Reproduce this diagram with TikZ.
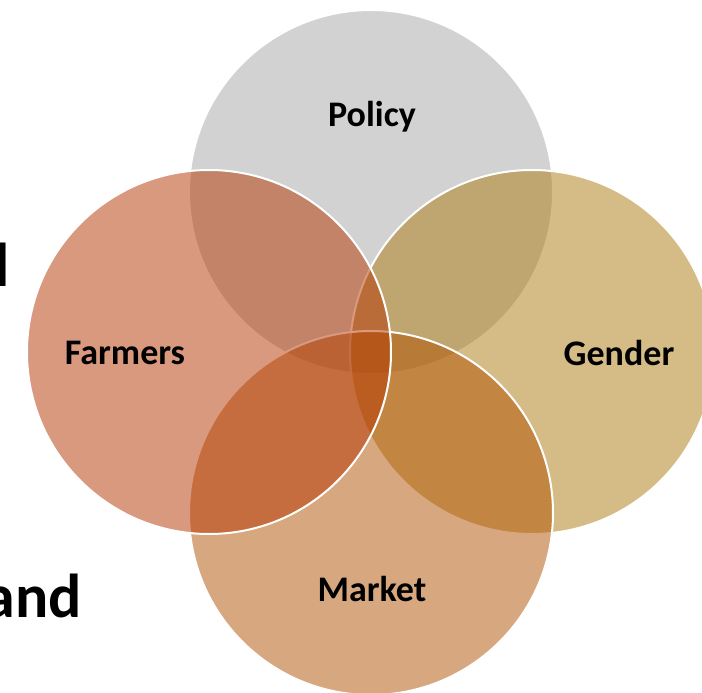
\documentclass[tikz,border=0pt]{standalone}
\usepackage{fontspec}
\setmainfont{Carlito}
\definecolor{policyc}{RGB}{167,167,167}
\definecolor{farmersc}{RGB}{181,53,0}
\definecolor{genderc}{RGB}{173,121,13}
\definecolor{marketc}{RGB}{177,81,1}
\tikzset{
  venn/.style={circle, minimum size=364pt, inner sep=0pt, outer sep=0pt, draw=white, line width=2pt, fill opacity=0.5, draw opacity=1},
  lbl/.style={anchor=base, inner sep=0pt, font=\fontsize{36}{43}\selectfont\bfseries, text=black},
  bigtxt/.style={anchor=base east, inner sep=0pt, font=\fontsize{62}{74}\selectfont\bfseries, text=black}
}
\begin{document}
\begin{tikzpicture}[x=1pt,y=-1pt]
\useasboundingbox (0,0) rectangle (702,693);
\fill[white] (0,0) rectangle (702,693);
\node[bigtxt] (t1) at (10,286) {d};
\node[bigtxt] (t2) at (82,617) {and};
\node[venn, fill=policyc] (policy) at (371,192) {};
\node[venn, fill=genderc] (gender) at (532,352) {};
\node[venn, fill=marketc] (market) at (371,513) {};
\node[venn, fill=farmersc] (farmers) at (209,352) {};
\node[lbl] (lp) at (372,127) {Policy};
\node[lbl] (lf) at (125,364) {Farmers};
\node[lbl] (lg) at (619,365) {Gender};
\node[lbl] (lm) at (372,601) {Market};
\end{tikzpicture}
\end{document}
